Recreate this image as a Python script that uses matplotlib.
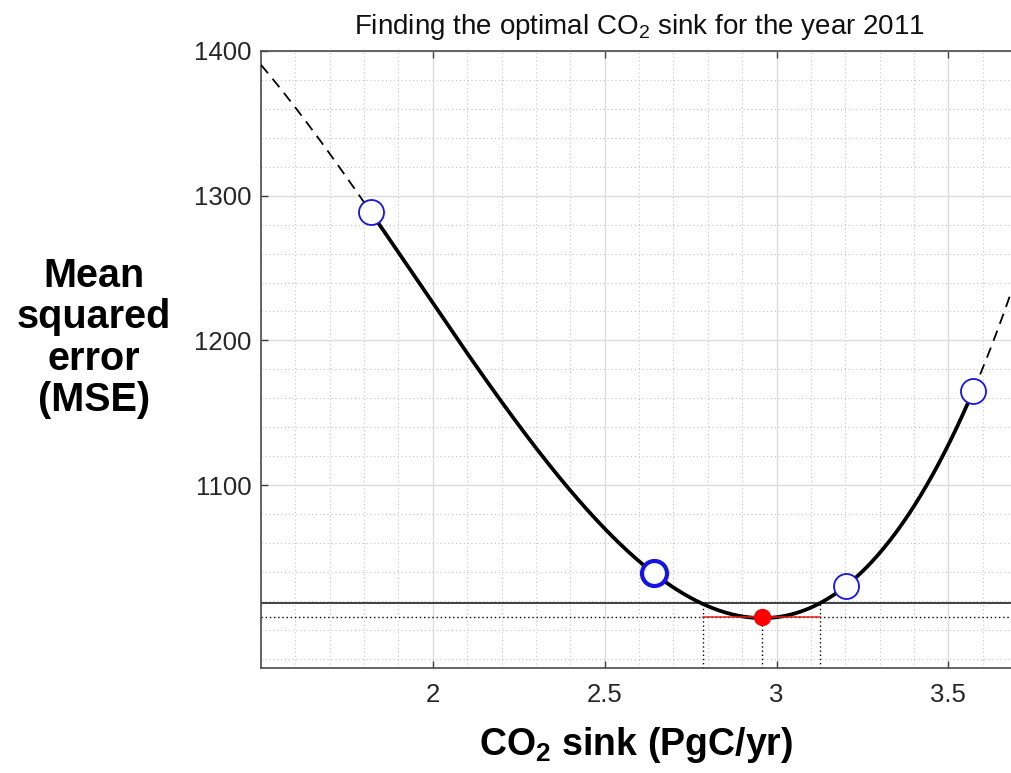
import numpy as np
import matplotlib
matplotlib.use("Agg")
import matplotlib.pyplot as plt
from matplotlib.ticker import MultipleLocator, FixedLocator, FixedFormatter

# ---- data ----
sink_samples = [1.820, 2.643, 3.203, 3.572]      # PgC/yr, sampled sinks
mse_samples = [1288.5, 1039.0, 1030.5, 1165.0]   # MSE at those sinks
best_sink = 2.958
best_mse = 1008.7
threshold_mse = 1018.7
ci_low = 2.785
ci_high = 3.125
xticks = [2, 2.5, 3, 3.5]
xticklabels = ['2', '2.5', '3', '3.5']
yticks = [1100, 1200, 1300, 1400]
yticklabels = ['1100', '1200', '1300', '1400']
xlim = (1.5, 3.7025)
ylim = (973.6, 1400)

plt.rcParams['mathtext.fontset'] = 'custom'
plt.rcParams['mathtext.rm'] = 'Liberation Sans'
plt.rcParams['mathtext.bf'] = 'Liberation Sans:bold'
plt.rcParams['font.family'] = ['Liberation Sans', 'DejaVu Sans']

W, H = 1011, 773
fig = plt.figure(figsize=(W / 100, H / 100), dpi=100)
ax = fig.add_axes([261 / W, 105 / H, 757 / W, 617 / H])
ax.set_xlim(*xlim)
ax.set_ylim(*ylim)

# grid and ticks
ax.xaxis.set_major_locator(FixedLocator(xticks))
ax.xaxis.set_major_formatter(FixedFormatter(xticklabels))
ax.yaxis.set_major_locator(FixedLocator(yticks))
ax.yaxis.set_major_formatter(FixedFormatter(yticklabels))
ax.xaxis.set_minor_locator(MultipleLocator(0.1))
ax.yaxis.set_minor_locator(MultipleLocator(20))
ax.grid(which='major', color='#dcdcdc', lw=1.0, ls='-', zorder=0)
ax.grid(which='minor', color='#c4c4c4', lw=0.8, ls=(0, (1, 2.5)), zorder=0)
ax.set_axisbelow(True)
ax.tick_params(which='minor', length=0)
ax.tick_params(which='major', direction='in', length=5, width=1.0, color='#404040',
               top=True, right=True, labelsize=18.5, labelcolor='#262626')
ax.tick_params(axis='x', pad=11)
ax.tick_params(axis='y', pad=7)
for s in ax.spines.values():
    s.set_color('#4a4a4a')
    s.set_linewidth(1.2)

# fitted cubic through the sampled points
coef = np.polyfit(sink_samples, mse_samples, 3)
x_in = np.linspace(sink_samples[0], sink_samples[-1], 400)
x_lo = np.linspace(xlim[0], sink_samples[0], 100)
x_hi = np.linspace(sink_samples[-1], xlim[1] + 0.05, 100)
ax.plot(x_in, np.polyval(coef, x_in), color='black', lw=2.7, zorder=3, solid_capstyle='round')
for xx in (x_lo, x_hi):
    ln, = ax.plot(xx, np.polyval(coef, xx), color='black', lw=1.3, zorder=3)
    ln.set_dashes((6, 4))

# threshold and min lines
ax.axhline(threshold_mse, color='#404040', lw=1.4, zorder=2)
ax.axhline(best_mse, color='black', lw=1.0, ls=(0, (1, 2)), zorder=2)
ax.plot([ci_low, ci_low], [ylim[0], threshold_mse], color='black', lw=1.0, ls=(0, (1, 2)), zorder=2)
ax.plot([ci_high, ci_high], [ylim[0], threshold_mse], color='black', lw=1.0, ls=(0, (1, 2)), zorder=2)
ax.plot([best_sink, best_sink], [ylim[0], best_mse], color='black', lw=1.0, ls=(0, (1, 2)), zorder=2)
ax.plot([ci_low, ci_high], [best_mse, best_mse], color='#e8201c', lw=1.1, zorder=4)

# sample markers
for i, (xs, ys) in enumerate(zip(sink_samples, mse_samples)):
    ax.plot(xs, ys, 'o', ms=18, mfc='white', mec='#1414e6',
            mew=3.0 if i == 1 else 1.3, zorder=5)
ax.plot(best_sink, best_mse, 'o', ms=11.5, mfc='#ff0000', mec='#ff0000', zorder=6)

# texts
fig.text(639.5 / W, 1 - 34 / H, r'Finding the optimal CO$_2$ sink for the year 2011',
         ha='center', va='baseline', fontsize=20, color='#111111')
fig.text(636 / W, 1 - 755 / H, r'CO$_\mathbf{2}$ sink (PgC/yr)', ha='center', va='baseline',
         fontsize=27, fontweight='bold', color='black')
fig.text(94 / W, 1 - 338 / H, 'Mean\nsquared\nerror\n(MSE)', ha='center', va='center',
         multialignment='center', fontsize=28.5, fontweight='bold', linespacing=1.12, color='black')

fig.savefig('out.png', dpi=100)
